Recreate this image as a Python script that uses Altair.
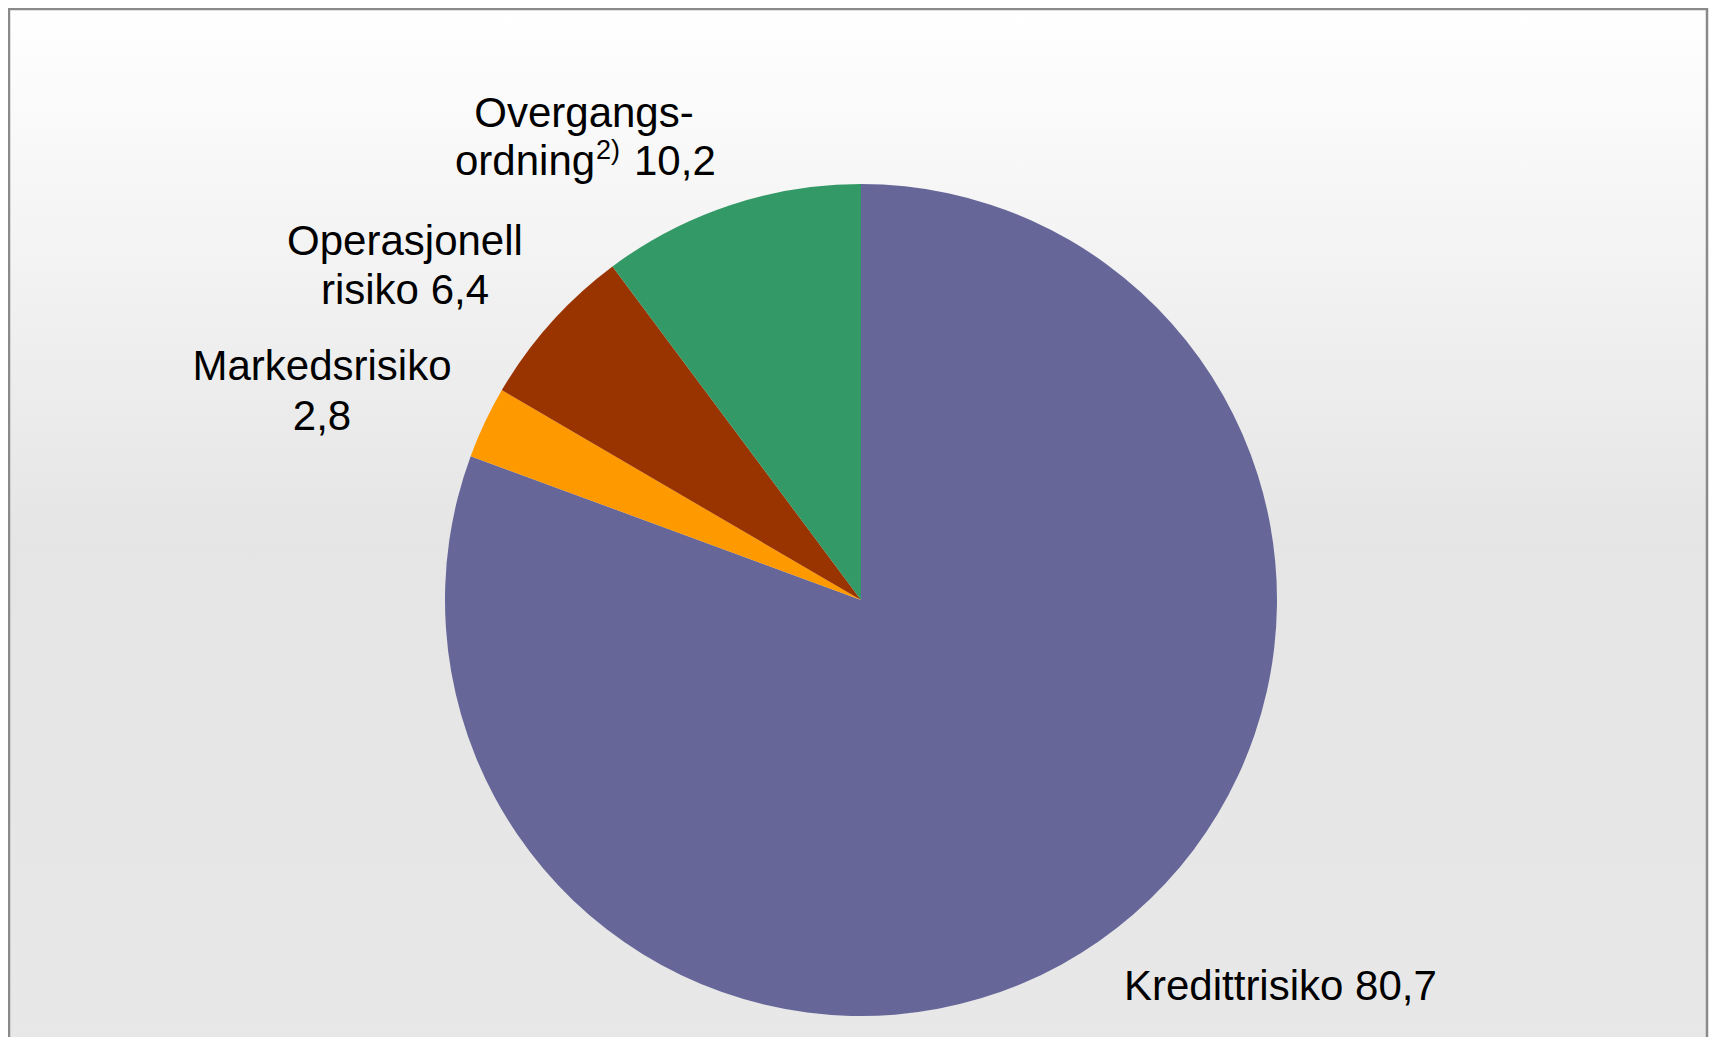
import altair as alt
import pandas as pd

# ---- data ----
categories = ["Kredittrisiko", "Markedsrisiko", "Operasjonell risiko", "Overgangsordning"]
values = [80.7, 2.8, 6.4, 10.2]
colors = ["#666699", "#FF9900", "#993300", "#339966"]


def fmt(v):
    return f"{v:.1f}".replace(".", ",")


df = pd.DataFrame({"kategori": categories, "verdi": values, "rekkefolge": list(range(len(categories)))})

# ---- layout / style ----
W, H = 1701, 1029
CX, CY, R = 853, 592, 416
FONT = "Liberation Sans"
FS = 42

# label lines: (text, x, y baseline, size, align)
label_rows = [
    ("Overgangs-", 576, 119, FS, "center"),
    ("ordning", 447, 167, FS, "left"),
    ("2)", 588, 151, 27, "left"),
    (fmt(values[3]), 626, 167, FS, "left"),
    ("Operasjonell", 397, 247, FS, "center"),
    (f"risiko {fmt(values[2])}", 397, 296, FS, "center"),
    ("Markedsrisiko", 314, 372, FS, "center"),
    (fmt(values[1]), 314, 422, FS, "center"),
    (f"{categories[0]} {fmt(values[0])}", 1116, 992, FS, "left"),
]
labels = pd.DataFrame(label_rows, columns=["text", "x", "y", "size", "align"])

bg = alt.Chart(pd.DataFrame({"a": [0]})).mark_rect(
    fill=alt.Gradient(
        gradient="linear",
        stops=[
            alt.GradientStop(color="#ffffff", offset=0),
            alt.GradientStop(color="#e5e5e5", offset=0.5),
            alt.GradientStop(color="#e8e8e8", offset=1),
        ],
        x1=0, x2=0, y1=0, y2=1,
    ),
    stroke="#8a8a8a",
    strokeWidth=2.5,
).encode(x=alt.value(1), x2=alt.value(W - 2), y=alt.value(1), y2=alt.value(H + 40))

pie = alt.Chart(df).mark_arc(outerRadius=R).encode(
    theta=alt.Theta("verdi:Q", stack=True),
    order=alt.Order("rekkefolge:Q"),
    color=alt.Color("kategori:N", scale=alt.Scale(domain=categories, range=colors), legend=None),
    x=alt.value(CX),
    y=alt.value(CY),
)

text_layers = []
for align in ["left", "center"]:
    for size in sorted(labels["size"].unique()):
        sub = labels[(labels["align"] == align) & (labels["size"] == size)]
        if len(sub) == 0:
            continue
        text_layers.append(
            alt.Chart(sub).mark_text(
                align=align, baseline="alphabetic", font=FONT, fontSize=int(size), color="#000000"
            ).encode(
                x=alt.X("x:Q", scale=None),
                y=alt.Y("y:Q", scale=None),
                text="text:N",
            )
        )

chart = alt.layer(bg, pie, *text_layers).properties(
    width=W, height=H,
    autosize=alt.AutoSizeParams(type="none"),
    padding=0,
).configure_view(stroke=None)

chart.save("out.html", embed_options={"renderer": "svg", "actions": False})
